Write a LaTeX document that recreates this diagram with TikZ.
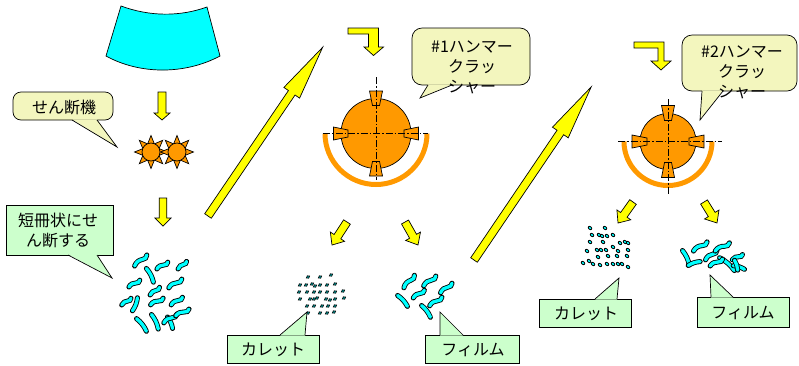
\documentclass[tikz,border=0pt]{standalone}
\usepackage{fontspec}
\newfontfamily\jp{Noto Sans CJK JP}
\definecolor{hammerorange}{HTML}{FF9900}
\definecolor{drumcyan}{HTML}{00FFFF}
\definecolor{arrowyellow}{HTML}{FFFF00}
\definecolor{noteyellow}{HTML}{F3F6BE}
\definecolor{notegreen}{HTML}{CCFFCC}
\tikzset{
  outline/.style={draw=black, line width=0.7pt},
  yelarrow/.style={fill=arrowyellow, outline, line join=miter},
  orangepart/.style={fill=hammerorange, outline},
  dot/.style={fill=drumcyan, draw=black, line width=0.8pt},
  film/.style={draw=drumcyan, line width=3.3pt, line cap=round,
    preaction={draw=black, line width=5pt, line cap=round}},
  centerline/.style={draw=black, line width=0.7pt,
    dash pattern=on 7pt off 2pt on 1.5pt off 2pt},
  guard/.style={draw=hammerorange, line width=5pt},
  noteY/.style={fill=noteyellow, outline},
  noteG/.style={fill=notegreen, outline},
  jptext/.style={font=\jp\fontsize{16}{20}\selectfont, align=center, inner sep=0pt, text=black},
  % block arrow pointing along local +x: length, shaft half-width, head half-width, head length
  pics/blockarrow/.style n args={4}{code={
    \filldraw[yelarrow] (0,-#2) -- ({#1-#4},-#2) -- ({#1-#4},-#3) -- (#1,0)
      -- ({#1-#4},#3) -- ({#1-#4},#2) -- (0,#2) -- cycle;
  }},
  % hammer head: inner radius, outer radius, inner half-width, outer half-width
  pics/hammer/.style n args={4}{code={
    \filldraw[orangepart] (#1,-#3) -- (#2,-#4) -- (#2,#4) -- (#1,#3) -- cycle;
  }},
  pics/sun/.style={code={
    \foreach \a in {0,45,...,315}
      \filldraw[orangepart, rotate=\a] (8.5,-3.2) -- (16.5,0) -- (8.5,3.2) -- cycle;
    \filldraw[orangepart] (0,0) circle[radius=9pt];
  }},
  pics/wave/.style={code={
    \draw[film] (-7,1) .. controls (-4,-1.5) and (-1,-1.5) .. (2,-0.5)
      .. controls (4,0.3) and (5.5,0) .. (7,-2);
  }},
  pics/bar/.style={code={
    \draw[film] (-7,0.6) .. controls (-2,-0.6) and (2,-0.6) .. (7,0.6);
  }},
}
\begin{document}
\begin{tikzpicture}[x=1pt,y=-1pt]
\useasboundingbox (0,0) rectangle (799,365);

% ---------- feed drum ----------
\filldraw[fill=drumcyan, outline] (121,6) .. controls (150,16.7) and (180,16.7) .. (207,7)
  -- (220,56) .. controls (185,74.7) and (140,74.7) .. (106,56) -- cycle;

% ---------- shear ----------
\pic at (162,92) [rotate=-90] {blockarrow={28}{4}{8}{7}};
\pic at (151,152) {sun};
\pic at (177,152) {sun};
\pic at (163,198) [rotate=-90] {blockarrow={28}{3.8}{8}{8}};

% callout: shear
\filldraw[noteY, rounded corners=8pt] (13,92) rectangle (113,120);
\fill[noteyellow] (72,119.3) -- (97,119.3) -- (117,147) -- cycle;
\draw[outline] (72,120) -- (117,147) -- (97,120);
\node[jptext] (shear) at (64,107) {せん断機};

% callout: strips
\filldraw[noteG] (6,205) rectangle (113,255);
\fill[notegreen] (68,254.3) -- (97,254.3) -- (112,278) -- cycle;
\draw[outline] (68,255) -- (112,278) -- (97,255);
\node[jptext] (strips) at (58,230) {短冊状にせ\\ん断する};

% shredded strips
\pic[rotate=30, scale=1.15] at (141,261) {wave};
\pic[rotate=-63, scale=1.1] at (150.5,275) {bar};
\pic[rotate=20, scale=0.9] at (162.5,266) {wave};
\pic[rotate=30, scale=0.8] at (182.5,265.5) {wave};
\pic[rotate=20, scale=0.9] at (134.5,284) {wave};
\pic[rotate=27, scale=0.85] at (155,291.5) {wave};
\pic[rotate=22, scale=1.1] at (175.5,284) {wave};
\pic[rotate=24, scale=0.8] at (126.5,302) {wave};
\pic[rotate=-111, scale=1.0] at (135.5,304.5) {bar};
\pic[rotate=16, scale=1.0] at (157,302) {wave};
\pic[rotate=22, scale=0.95] at (177,301.5) {wave};
\pic[rotate=-52, scale=1.15] at (142,324.5) {bar};
\pic[rotate=-65, scale=1.15] at (155.5,321.5) {bar};
\pic[rotate=-66, scale=0.9] at (170.5,322.5) {bar};
\pic[rotate=22, scale=1.1] at (170.5,319) {wave};
\pic[rotate=15, scale=1.05] at (182.5,313) {wave};

% transfer arrows
\pic at (208,216) [rotate=55.8] {blockarrow={204}{4}{9.5}{55}};
\pic at (474,260) [rotate=55.9] {blockarrow={209}{4}{9.5}{55}};

% ---------- hammer crusher #1 ----------
\coordinate (c1) at (376,133.5);
\filldraw[yelarrow] (348,28) -- (378.5,28) -- (378.5,47) -- (383.5,47) -- (373.5,55.5)
  -- (364,47) -- (368.5,47) -- (368.5,34) -- (348,34) -- cycle;
\draw[guard] (c1) ++(-51pt,0) arc[start angle=180, end angle=360, radius=51pt];
\filldraw[orangepart] (c1) circle[radius=35pt];
\foreach \a in {0,90,180,270}
  \pic[rotate=\a] at (c1) {hammer={28}{42.5}{3.5}{6.5}};
\draw[centerline] (323,133.5) -- (428,133.5);
\draw[centerline] (376,77) -- (376,180);

\filldraw[noteY, rounded corners=10pt] (412,28) rectangle (530,85);
\fill[noteyellow] (428,84.3) -- (452,84.3) -- (420,98) -- cycle;
\draw[outline] (428,85) -- (420,98) -- (452,85);
\node[jptext] (crusher1) at (472,67) {\#1ハンマー\\クラッ\\シャー};

\pic at (347,222) [rotate=-123.1] {blockarrow={27.5}{4}{8.5}{10}};
\pic at (405,222) [rotate=-60.5] {blockarrow={26.4}{4}{8.5}{10}};

% cullet #1
\foreach \x/\y in {308/277, 320/277, 331/275,
    300/285, 306/285, 312/284, 315/286, 320/285, 327/285, 335/284,
    299/292, 307/292, 314/292, 320/292, 327/292, 335/292, 343/291,
    300/299, 310/299, 314/299, 317/298, 326/299, 330/300, 335/299, 344/298,
    307/306, 314/306, 322/306, 328/306, 335/306,
    308/313, 320/313, 327/313, 334/312}
  \filldraw[dot, rotate around={30:(\x,\y)}] (\x,\y) ellipse[x radius=1.8pt, y radius=1.3pt];

% film #1
\pic[rotate=38, scale=1.15] at (409.5,282) {wave};
\pic[rotate=27, scale=1.1] at (430,281.5) {wave};
\pic[rotate=28, scale=1.05] at (446.5,288.5) {wave};
\pic[rotate=-48, scale=1.05] at (403,300.5) {bar};
\pic[rotate=23, scale=0.95] at (419,294.5) {wave};
\pic[rotate=-53, scale=1.05] at (426.5,311) {bar};
\pic[rotate=23, scale=1.05] at (436,302) {wave};

\filldraw[noteG] (227,335) rectangle (319,363);
\fill[notegreen] (280,335.7) -- (305,335.7) -- (307,312) -- cycle;
\draw[outline] (280,335) -- (307,312) -- (305,335);
\node[jptext] (cullet1) at (273,350) {カレット};

\filldraw[noteG] (425,335) rectangle (519,363);
\fill[notegreen] (440,335.7) -- (463,335.7) -- (440,312) -- cycle;
\draw[outline] (440,335) -- (440,312) -- (463,335);
\node[jptext] (film1) at (473,350) {フィルム};

% ---------- hammer crusher #2 ----------
\coordinate (c2) at (668,141.5);
\filldraw[yelarrow] (634,42) -- (664,42) -- (664,61) -- (671,61) -- (661,70)
  -- (651,61) -- (658,61) -- (658,48) -- (634,48) -- cycle;
\draw[guard] (c2) ++(-44pt,0) arc[start angle=180, end angle=360, radius=44pt];
\filldraw[orangepart] (c2) circle[radius=28pt];
\foreach \a in {0,90,180,270}
  \pic[rotate=\a] at (c2) {hammer={21}{36}{3.5}{6.5}};
\draw[centerline] (618,141.5) -- (722,141.5);
\draw[centerline] (668,99) -- (668,194);

\filldraw[noteY, rounded corners=10pt] (682,35) rectangle (797,91);
\fill[noteyellow] (702,90.3) -- (723,90.3) -- (700,120) -- cycle;
\draw[outline] (702,91) -- (700,120) -- (723,91);
\node[jptext] (crusher2) at (742,72) {\#2ハンマー\\クラッ\\シャー};

\pic at (633,202) [rotate=-125.5] {blockarrow={25.8}{4}{8.5}{10}};
\pic at (704,202) [rotate=-58.2] {blockarrow={24.7}{4}{8.5}{10}};

% cullet #2
\foreach \x/\y in {590/228, 605/228,
    592/235, 599/235, 602/236, 607/236, 613/235,
    590/242, 603/242, 620/243, 625/242, 628/243,
    587/251, 597/250, 601/250, 606/250, 613/247, 618/251, 628/250,
    598/257, 608/256, 617/256, 627/256,
    583/263, 589/261, 593/264, 600/265, 607/264, 613/264, 618/264, 622/264, 628/267}
  \filldraw[dot, rotate around={-40:(\x,\y)}] (\x,\y) ellipse[x radius=2pt, y radius=1.4pt];

% film #2
\pic[rotate=-65, scale=1.15] at (686.5,257.5) {bar};
\pic[rotate=18, scale=0.9] at (694,263) {bar};
\pic[rotate=22, scale=1.15] at (700.5,247) {wave};
\pic[rotate=28, scale=1.05] at (711.5,255.5) {wave};
\pic[rotate=18, scale=1.15] at (722.5,247.5) {wave};
\pic[rotate=-41, scale=1.4] at (727.5,263.5) {bar};
\pic[rotate=17, scale=1.0] at (716.5,263) {wave};
\pic[rotate=15, scale=0.8] at (737.5,257.5) {wave};
\pic[rotate=-18, scale=0.85] at (739,267) {bar};
\pic[rotate=-72, scale=0.75] at (736.5,265) {bar};

\filldraw[noteG] (539,299) rectangle (631,327);
\fill[notegreen] (595,299.7) -- (617,299.7) -- (619,278) -- cycle;
\draw[outline] (595,299) -- (619,278) -- (617,299);
\node[jptext] (cullet2) at (586,314) {カレット};

\filldraw[noteG] (697,297) rectangle (789,327);
\fill[notegreen] (711,297.7) -- (733,297.7) -- (710,275) -- cycle;
\draw[outline] (711,297) -- (710,275) -- (733,297);
\node[jptext] (film2) at (743,313) {フィルム};
\end{tikzpicture}
\end{document}
